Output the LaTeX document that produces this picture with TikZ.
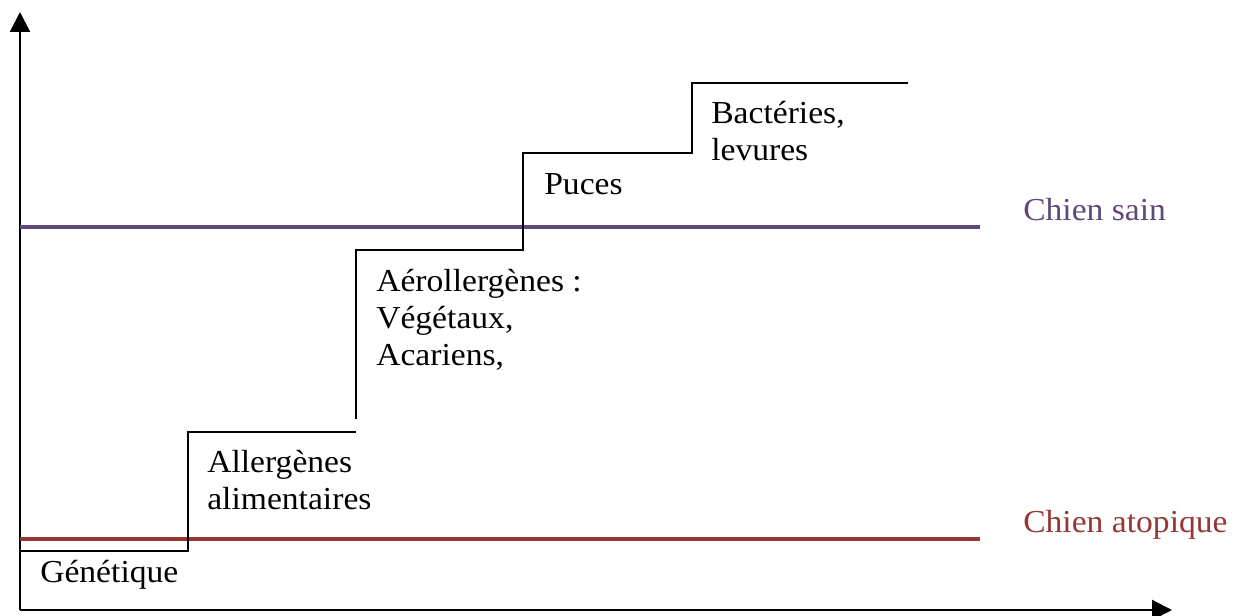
\documentclass[tikz,border=0pt]{standalone}
\usepackage{fontspec}
\setmainfont{Liberation Serif}[FakeStretch=1.05]
\usetikzlibrary{arrows.meta}
\definecolor{sainc}{HTML}{5F497A}
\definecolor{atopc}{HTML}{953735}
\tikzset{
  axis/.style={line width=1.6pt,-{Triangle[length=15pt,width=15pt]}},
  stair/.style={line width=1.1pt,black},
  level/.style={line width=3.6pt},
  lbl/.style={anchor=base west,inner sep=0pt,align=left,font=\fontsize{24}{27.75}\selectfont},
}
\begin{document}
\begin{tikzpicture}[x=0.75pt,y=-0.75pt]
\useasboundingbox (0,0) rectangle (1246,616);
% axes
\coordinate (O) at (20,610);
\coordinate (ytop) at (20,12);
\coordinate (xend) at (1172,610);
\draw[axis] (O) -- (ytop);
\draw[axis] (O) -- (xend);
% level lines
\coordinate (s0) at (20,227);
\coordinate (s1) at (980,227);
\coordinate (a0) at (20,539);
\coordinate (a1) at (980,539);
\draw[level,sainc] (s0) -- (s1);
\draw[level,atopc] (a0) -- (a1);
% stairs
\draw[stair] (20,551) -- (188,551) -- (188,432) -- (356,432);
\draw[stair] (356,419) -- (356,250) -- (523,250) -- (523,153) -- (692,153) -- (692,83) -- (908,83);
% labels (base = baseline of last line)
\node[lbl] (gen) at (40,582) {Génétique};
\node[lbl] (alim) at (207,509) {Allergènes\\alimentaires};
\node[lbl] (aero) at (376,366) {Aérollergènes :\\Végétaux,\\Acariens,};
\node[lbl] (puces) at (544,195) {Puces};
\node[lbl] (bact) at (711,161) {Bactéries,\\levures};
\node[lbl,text=sainc] (sain) at (1023,221) {Chien sain};
\node[lbl,text=atopc] (atop) at (1023,532) {Chien atopique};
\end{tikzpicture}
\end{document}
